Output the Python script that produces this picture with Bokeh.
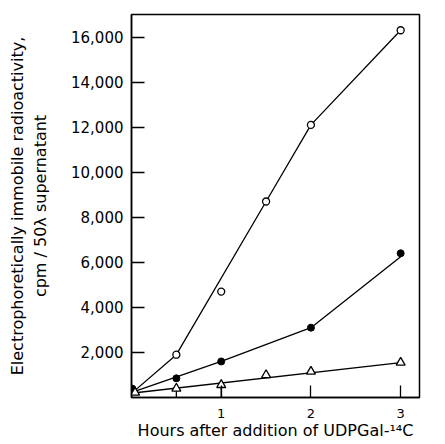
from bokeh.plotting import figure
from bokeh.models import LinearAxis, FixedTicker, NumeralTickFormatter, Range1d
from bokeh.embed import file_html
from bokeh.resources import INLINE

# --- data ---
open_hours = [-0.03, 0.5, 1.0, 1.5, 2.0, 3.0]
open_cpm = [220, 1900, 4700, 8700, 12100, 16300]
open_line_hours = [0.02, 0.5, 1.5, 2.0, 3.0]
open_line_cpm = [250, 1900, 8700, 12100, 16300]

filled_hours = [0.01, 0.5, 1.0, 2.0, 3.0]
filled_cpm = [390, 850, 1600, 3100, 6400]
filled_line_hours = [0.02, 1.0, 2.0, 3.0]
filled_line_cpm = [250, 1600, 3100, 6250]

tri_hours = [0.04, 0.5, 1.0, 1.5, 2.0, 3.0]
tri_cpm = [220, 400, 560, 1000, 1150, 1550]
tri_line_hours = [0.02, 3.0]
tri_line_cpm = [200, 1550]

bar_hours = [0.5, 1.0]
bar_low = [0, 0]
bar_high = [330, 480]

y_ticks = [2000, 4000, 6000, 8000, 10000, 12000, 14000, 16000]
x_ticks = [1, 2, 3]

x_title = "Hours after addition of UDPGal-\u00b9\u2074C"
y_title_1 = "Electrophoretically immobile radioactivity,"
y_title_2 = "cpm / 50\u03bb supernatant"

FONT = "DejaVu Sans"
INK = "black"

p = figure(width=445, height=444, output_backend="svg", toolbar_location=None,
           x_range=Range1d(0, 3.21), y_range=Range1d(0, 17000),
           min_border_left=131, min_border_right=26, min_border_top=14,
           min_border_bottom=47, background_fill_color="white",
           border_fill_color="white")
p.grid.visible = False
p.outline_line_color = INK
p.outline_line_width = 1.5

# x axis
xa = p.xaxis[0]
xa.ticker = FixedTicker(ticks=x_ticks)
xa.major_tick_in = 12
xa.major_tick_out = 0
xa.minor_tick_line_color = None
xa.axis_line_width = 1.5
xa.axis_line_color = INK
xa.major_tick_line_width = 1.3
xa.major_tick_line_color = INK
xa.major_label_text_font = FONT
xa.major_label_text_font_size = "13px"
xa.major_label_text_color = INK
xa.major_label_standoff = 11
xa.axis_label = x_title
xa.axis_label_text_font = FONT
xa.axis_label_text_font_size = "16px"
xa.axis_label_text_font_style = "normal"
xa.axis_label_text_color = INK
xa.axis_label_standoff = 0

# y axis
ya = p.yaxis[0]
ya.ticker = FixedTicker(ticks=y_ticks)
ya.formatter = NumeralTickFormatter(format="0,0")
ya.major_tick_in = 13
ya.major_tick_out = 0
ya.minor_tick_line_color = None
ya.axis_line_width = 1.5
ya.axis_line_color = INK
ya.major_tick_line_width = 1.3
ya.major_tick_line_color = INK
ya.major_label_text_font = FONT
ya.major_label_text_font_size = "15px"
ya.major_label_text_color = INK
ya.major_label_standoff = 8
ya.axis_label = y_title_2
ya.axis_label_text_font = FONT
ya.axis_label_text_font_size = "16px"
ya.axis_label_text_font_style = "normal"
ya.axis_label_text_color = INK
ya.axis_label_standoff = 18

outer = LinearAxis(ticker=FixedTicker(ticks=[]), axis_line_color=None,
                   major_tick_in=0, major_tick_out=0, minor_tick_in=0,
                   minor_tick_out=0, major_label_text_alpha=0,
                   axis_label=y_title_1,
                   axis_label_text_font=FONT, axis_label_text_font_size="16px",
                   axis_label_text_font_style="normal",
                   axis_label_text_color=INK, axis_label_standoff=2)
p.add_layout(outer, "left")

# fitted lines
for xs, ys in [(open_line_hours, open_line_cpm),
               (filled_line_hours, filled_line_cpm),
               (tri_line_hours, tri_line_cpm)]:
    p.line(xs, ys, line_color=INK, line_width=1.3)

# bars on triangles
p.segment(x0=bar_hours, y0=bar_low, x1=bar_hours, y1=bar_high,
          line_color=INK, line_width=1.3)

# markers
p.scatter(open_hours, open_cpm, marker="circle", size=7, fill_color="white",
          line_color=INK, line_width=1.3)
p.scatter(filled_hours, filled_cpm, marker="circle", size=7, fill_color=INK,
          line_color=INK)
p.scatter(tri_hours, tri_cpm, marker="triangle", size=9, fill_color="white",
          line_color=INK, line_width=1.3)

open("out.html", "w").write(file_html(p, INLINE))
